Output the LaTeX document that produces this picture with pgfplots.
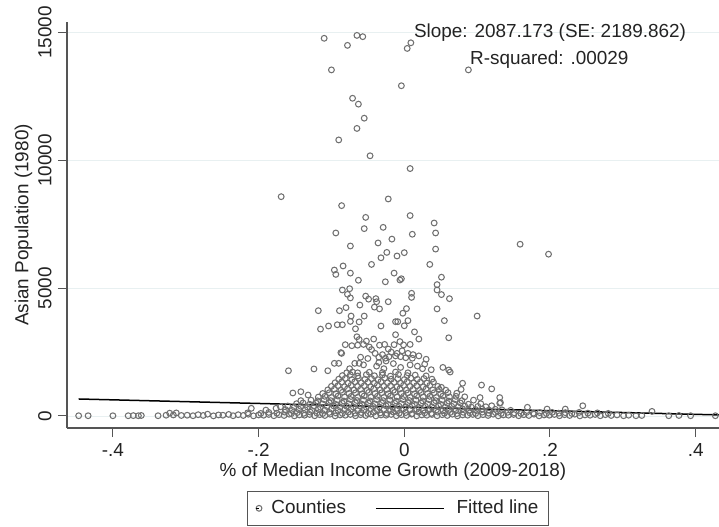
\documentclass[border=0pt]{standalone}
\usepackage{fontspec}
\setmainfont{Liberation Sans}
\usepackage{pgfplots}
\pgfplotsset{compat=1.18}
\definecolor{mkgray}{RGB}{112,112,112}
\definecolor{gridc}{RGB}{232,240,241}
\definecolor{axc}{RGB}{85,85,85}
\definecolor{txtc}{RGB}{35,35,35}
\pgfplotsset{
  scatlegend/.style={legend image code/.code={\draw[overlay,mark repeat=1,##1] plot coordinates {(0bp,0bp)};\path (-3bp,0bp) -- (0bp,0bp);}},
  linelegend/.style={legend image code/.code={\draw[##1] (0bp,0bp) -- (68bp,0bp);}},
}
\begin{document}
\fontsize{18.9bp}{22bp}\selectfont
\begin{tikzpicture}
\path[use as bounding box] (0,0) rectangle (719bp,527bp);
\begin{axis}[
  at={(67bp,99bp)}, anchor=south west,
  width=652bp, height=406bp, scale only axis,
  xmin=-0.463, xmax=0.432, ymin=-470, ymax=15414,
  clip=false,
  axis x line*=bottom, axis y line*=left,
  axis line style={draw=axc, line width=1.1bp},
  tick align=outside, major tick length=9bp,
  tick style={draw=axc, line width=1bp},
  scaled x ticks=false, scaled y ticks=false,
  xtick={-0.4,-0.2,0,0.2,0.4}, xticklabels={-.4,-.2,0,.2,.4},
  ytick={0,5000,10000,15000}, yticklabels={0,5000,10000,15000},
  /pgf/number format/assume math mode=true,
  ticklabel style={text=txtc},
  yticklabel style={rotate=90, anchor=south},
  ymajorgrids, grid style={draw=gridc, line width=0.9bp},
  xlabel={\% of Median Income Growth (2009-2018)},
  ylabel={Asian Population (1980)},
  xlabel shift=-7bp, ylabel shift=-7bp,
  label style={text=txtc},
  legend columns=2,
  legend style={at={(0.5077,-0.2414)}, anchor=south, draw=axc, line width=0.9bp,
    inner xsep=8bp, inner ysep=7bp, text=txtc,
    /tikz/every odd column/.append style={column sep=10bp},
    /tikz/every even column/.append style={column sep=27bp}},
]
\addplot[only marks, mark=o, mark size=2.9bp, mark options={draw=mkgray, line width=1.05bp}, scatlegend]
coordinates {
(-0.447,10) (-0.434,10) (-0.400,10) (-0.379,10) (-0.372,15) (-0.365,10) (-0.361,20) (-0.338,10) (-0.327,30) (-0.322,110) (-0.317,40) (-0.313,120) (-0.306,20) (-0.298,30)
(-0.290,10) (-0.283,50) (-0.276,20) (-0.270,70) (-0.262,5) (-0.255,40) (-0.249,30) (-0.241,60) (-0.235,10) (-0.228,50) (-0.221,20) (-0.214,70) (-0.207,5) (-0.200,40) (-0.193,30) (-0.186,60) (-0.179,10) (-0.172,50) (-0.165,20) (-0.158,70) (-0.151,5) (-0.144,40) (-0.137,30) (-0.130,60) (-0.123,10) (-0.116,50) (-0.109,20) (-0.102,70) (-0.095,5) (-0.088,40) (-0.081,30) (-0.074,60) (-0.067,10) (-0.060,50) (-0.053,20) (-0.046,70) (-0.039,5) (-0.032,40) (-0.025,30) (-0.018,60) (-0.011,10) (-0.004,50) (0.003,20) (0.010,70) (0.017,5) (0.024,40) (0.031,30) (0.038,60) (0.045,10) (0.052,50) (0.059,20) (0.066,70) (0.073,5) (0.080,40) (0.087,30) (0.094,60) (0.101,10) (0.108,50) (0.115,20) (0.122,70) (0.129,5) (0.136,40) (0.143,30) (0.150,60) (0.157,10) (0.164,50) (0.171,20) (0.178,70) (0.185,5) (0.192,40) (0.199,30) (0.206,60) (0.213,10) (0.220,50) (0.227,20) (0.234,70) (0.241,5) (0.248,40) (0.255,30) (0.262,60) (0.269,10) (0.276,50) (0.284,20) (0.292,40) (0.301,10) (0.308,30) (0.318,10) (0.326,20) (0.340,180) (0.363,10) (0.377,20) (0.393,10) (0.427,10)
(-0.215,120) (-0.197,100) (-0.186,140) (-0.175,110) (-0.164,150) (-0.155,95) (-0.147,130) (-0.138,105) (-0.129,150) (-0.120,115) (-0.112,95) (-0.103,140) (-0.094,120) (-0.085,100) (-0.077,150) (-0.068,110) (-0.059,135) (-0.050,95) (-0.042,145) (-0.033,120) (-0.024,100) (-0.015,150) (-0.007,110) (0.002,135) (0.011,95) (0.020,145) (0.028,120) (0.037,100) (0.046,150) (0.055,110) (0.063,135) (0.072,95) (0.081,145) (0.090,120) (0.098,100) (0.107,150) (0.116,110) (0.125,135) (0.133,95) (0.142,145) (0.151,120) (0.160,100) (0.168,140) (0.177,110) (0.186,130) (0.195,95) (0.203,140) (0.212,110) (0.221,130) (0.230,100) (0.240,140) (0.252,110) (0.265,120) (0.280,100)
(-0.210,300) (-0.176,300) (-0.190,230) (-0.163,250) (-0.154,220) (-0.145,270) (-0.136,240) (-0.127,210) (-0.118,260) (-0.109,230) (-0.100,280) (-0.091,220) (-0.082,250) (-0.073,270) (-0.064,210) (-0.055,240) (-0.046,280) (-0.037,230) (-0.028,260) (-0.019,210) (-0.010,250) (-0.001,280) (0.008,230) (0.017,260) (0.026,220) (0.035,270) (0.044,240) (0.053,210) (0.062,260) (0.071,230) (0.080,280) (0.089,220) (0.098,250) (0.107,270) (0.116,230) (0.125,260) (0.134,240) (0.146,220) (0.169,340) (0.196,270) (0.221,270) (0.245,400)
(-0.170,360) (-0.160,390) (-0.151,340) (-0.142,380) (-0.133,350) (-0.124,400) (-0.115,340) (-0.106,370) (-0.097,395) (-0.088,345) (-0.079,380) (-0.070,355) (-0.061,400) (-0.052,340) (-0.043,375) (-0.034,350) (-0.025,395) (-0.016,345) (-0.007,380) (0.002,360) (0.011,395) (0.020,340) (0.029,375) (0.038,355) (0.047,395) (0.056,345) (0.065,380) (0.074,360) (0.083,390) (0.092,345) (0.101,375) (0.112,360) (0.120,400) (0.132,520)
(-0.148,480) (-0.139,510) (-0.130,460) (-0.121,500) (-0.112,470) (-0.103,515) (-0.094,455) (-0.085,495) (-0.076,475) (-0.067,515) (-0.058,460) (-0.049,500) (-0.040,470) (-0.031,510) (-0.022,455) (-0.013,495) (-0.004,480) (0.005,515) (0.014,460) (0.023,500) (0.032,470) (0.041,510) (0.050,455) (0.059,495) (0.068,475) (0.077,510) (0.088,460) (0.105,480) (0.131,500)
(-0.142,600) (-0.128,620) (-0.119,590) (-0.110,640) (-0.101,600) (-0.092,630) (-0.083,585) (-0.074,645) (-0.065,605) (-0.056,625) (-0.047,590) (-0.038,640) (-0.029,600) (-0.020,630) (-0.011,585) (-0.002,645) (0.007,605) (0.016,625) (0.025,590) (0.034,640) (0.043,600) (0.052,630) (0.061,585) (0.070,640) (0.079,600) (0.095,620) (0.104,720) (0.131,720)
(-0.132,820) (-0.118,740) (-0.109,770) (-0.100,725) (-0.091,780) (-0.082,745) (-0.073,765) (-0.064,730) (-0.055,785) (-0.046,740) (-0.037,770) (-0.028,725) (-0.019,780) (-0.010,745) (-0.001,765) (0.008,730) (0.017,785) (0.026,740) (0.035,770) (0.044,725) (0.053,780) (0.062,745) (0.071,770) (0.083,750)
(-0.153,900) (-0.142,950) (-0.112,880) (-0.103,910) (-0.094,870) (-0.085,925) (-0.076,885) (-0.067,905) (-0.058,865) (-0.049,920) (-0.040,880) (-0.031,910) (-0.022,870) (-0.013,925) (-0.004,885) (0.005,905) (0.014,865) (0.023,920) (0.032,880) (0.041,910) (0.050,870) (0.060,915) (0.072,890)
(-0.105,1020) (-0.096,1050) (-0.087,1005) (-0.078,1060) (-0.069,1015) (-0.060,1045) (-0.051,1000) (-0.042,1065) (-0.033,1020) (-0.024,1040) (-0.015,1005) (-0.006,1060) (0.003,1015) (0.012,1045) (0.021,1000) (0.030,1060) (0.039,1020) (0.048,1040) (0.057,1010) (0.078,1040) (0.120,1060)
(-0.100,1160) (-0.091,1190) (-0.082,1145) (-0.073,1200) (-0.064,1155) (-0.055,1185) (-0.046,1140) (-0.037,1205) (-0.028,1160) (-0.019,1180) (-0.010,1145) (-0.001,1200) (0.008,1155) (0.017,1185) (0.026,1140) (0.035,1195) (0.046,1160) (0.051,1120) (0.080,1280) (0.106,1210)
(-0.095,1300) (-0.086,1330) (-0.077,1285) (-0.068,1340) (-0.059,1295) (-0.050,1325) (-0.041,1280) (-0.032,1345) (-0.023,1300) (-0.014,1320) (-0.005,1285) (0.004,1340) (0.013,1295) (0.022,1325) (0.031,1290) (0.040,1330)
(-0.090,1440) (-0.081,1470) (-0.072,1425) (-0.063,1480) (-0.054,1435) (-0.045,1465) (-0.036,1420) (-0.027,1485) (-0.018,1440) (-0.009,1460) (0.000,1425) (0.009,1480) (0.018,1435) (0.027,1465) (0.038,1440)
(-0.085,1580) (-0.074,1610) (-0.064,1565) (-0.052,1620) (-0.041,1575) (-0.030,1605) (-0.019,1560) (-0.008,1625) (0.004,1580) (0.015,1600) (0.030,1570)
(-0.079,1690) (-0.071,1720) (-0.064,1690) (-0.048,1710) (-0.030,1700) (-0.012,1720) (0.005,1690) (0.037,1810) (0.063,1720)
(-0.159,1770) (-0.124,1840) (-0.105,1770) (0.053,1900) (0.061,1800) (-0.096,2060) (-0.090,2060) (-0.068,2060) (-0.062,2060) (-0.056,2000) (-0.035,2090) (-0.026,2260) (-0.021,2320) (-0.012,2350) (-0.005,2320) (0.002,2280) (0.011,2260) (0.030,2220) (0.028,2030) (-0.086,2450)
(-0.045,2600) (-0.040,2450) (-0.035,2300) (-0.030,2400) (-0.025,2150) (-0.018,2500) (-0.010,2450) (-0.003,2550) (0.005,2450) (0.012,2400) (0.020,2350) (-0.038,1950) (-0.028,1850) (-0.015,2050) (-0.005,1900) (0.008,2000) (0.018,1950) (0.025,1850) (-0.050,2250) (-0.060,2300) (-0.075,1850)
(-0.081,2790) (-0.072,2750) (-0.064,2770) (-0.056,2800) (-0.052,2930) (-0.048,2700) (-0.042,3010) (-0.034,2770) (-0.027,2800) (-0.022,2620) (-0.014,2790) (-0.006,2910) (-0.001,2780) (0.008,2800) (-0.065,3100) (-0.062,2990) (-0.012,3180) (0.014,3290) (0.020,3010) (0.061,3060) (-0.087,2480)
(-0.115,3400) (-0.104,3520) (-0.092,3570) (-0.085,3570) (-0.074,3700) (-0.067,3410) (-0.062,3680) (-0.032,3520) (-0.012,3690) (-0.009,3690) (0.000,3530) (0.005,3730) (0.055,3730)
(-0.118,4120) (-0.089,4120) (-0.080,4240) (0.003,4200) (-0.002,4020) (0.045,4190) (0.100,3910) (-0.073,3910) (-0.055,3910) (-0.061,4340) (-0.041,4260) (-0.034,4190)
(-0.085,4930) (-0.075,4980) (-0.078,4760) (-0.074,4620) (-0.053,4690) (-0.049,4570) (-0.039,4590) (-0.038,4470) (-0.022,4470) (0.010,4800) (0.010,4640) (0.045,4930) (0.051,4750) (0.062,4590)
(-0.096,5710) (-0.094,5540) (-0.084,5870) (-0.074,5590) (-0.063,5310) (-0.014,5590) (-0.004,5370) (-0.006,5320) (-0.026,5250) (0.051,5430) (0.045,5140) (-0.045,5930) (0.035,5930)
(-0.086,8230) (-0.053,7770) (0.008,7840) (0.041,7550) (-0.094,7160) (-0.055,7330) (-0.029,7380) (0.011,7110) (0.043,7160) (-0.017,6920) (-0.036,6770) (-0.074,6650) (0.043,6530) (-0.024,6400) (-0.032,6190) (-0.010,6260) (0.000,6390)
(0.159,6720) (0.198,6330) (-0.169,8580) (-0.022,8490) (0.008,9680) (-0.047,10180) (-0.090,10800) (-0.065,11250) (-0.055,11650) (-0.063,12200) (-0.071,12430) (-0.004,12920) (-0.100,13540) (0.088,13540)
(-0.110,14776) (-0.065,14890) (-0.057,14840) (-0.078,14500) (0.009,14600) (0.004,14380)
};
\addlegendentry{Counties}
\addplot[black, line width=1.5bp, linelegend]
coordinates {(-0.447,665) (0.432,42)};
\addlegendentry{Fitted line}
\node[text=txtc] at (axis cs:0.200,14983) {Slope: 2087.173 (SE: 2189.862)};
\node[text=txtc] at (axis cs:0.199,13927) {R-squared: .00029};
\end{axis}
\end{tikzpicture}
\end{document}
